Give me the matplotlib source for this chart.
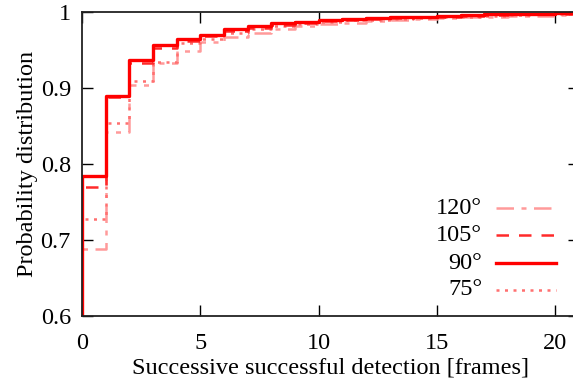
import numpy as np
import matplotlib
matplotlib.use("Agg")
import matplotlib.pyplot as plt

# successive detections (frames) and CDF per camera angle
frames = np.arange(0, 22)
labels = ["120°", "105°", "90°", "75°"]
cdf_120 = [0.688, 0.842, 0.904, 0.933, 0.949, 0.960, 0.967, 0.972, 0.977, 0.981, 0.984,
           0.986, 0.988, 0.990, 0.991, 0.992, 0.993, 0.994, 0.995, 0.995, 0.996, 0.996]
cdf_105 = [0.770, 0.888, 0.933, 0.953, 0.962, 0.968, 0.975, 0.979, 0.983, 0.986, 0.988,
           0.990, 0.991, 0.992, 0.993, 0.994, 0.995, 0.996, 0.997, 0.997, 0.998, 0.998]
cdf_90 = [0.784, 0.889, 0.937, 0.957, 0.964, 0.970, 0.977, 0.981, 0.985, 0.987, 0.989,
          0.991, 0.992, 0.993, 0.994, 0.995, 0.996, 0.997, 0.997, 0.998, 0.999, 0.999]
cdf_75 = [0.727, 0.854, 0.909, 0.934, 0.959, 0.965, 0.972, 0.977, 0.981, 0.984, 0.987,
          0.989, 0.990, 0.991, 0.992, 0.993, 0.994, 0.995, 0.996, 0.997, 0.997, 0.998]

plt.rcParams['font.family'] = ['Liberation Serif', 'DejaVu Serif']
plt.rcParams['font.size'] = 17.5

fig = plt.figure(figsize=(5.73, 3.85), dpi=100)
ax = fig.add_axes([82/573, 69/385, 497/573, 304/385])

styles = [
    dict(color='#ff9a9a', lw=1.8, dashes=(7, 3, 2, 3)),
    dict(color='#ff2a2a', lw=1.8, dashes=(5, 4)),
    dict(color='#ff0000', lw=2.4),
    dict(color='#ff7070', lw=1.8, dashes=(1.2, 2.2)),
]
series = [cdf_120, cdf_105, cdf_90, cdf_75]

# draw from back to front, 90 on top
for i in [0, 3, 1, 2]:
    x = np.concatenate([[0], frames])
    y = np.concatenate([[0.0], series[i]])
    ax.plot(x, y, drawstyle='steps-post', **styles[i])

ax.set_xlim(0, 21)
ax.set_ylim(0.6, 1.0)
ax.set_xticks([0, 5, 10, 15, 20])
ax.set_yticks([0.6, 0.7, 0.8, 0.9, 1.0])
ax.set_yticklabels(["0.6", "0.7", "0.8", "0.9", "1"])
ax.tick_params(direction='in', length=8, width=1, top=True, right=True)
ax.tick_params(axis='x', pad=12)
ax.tick_params(axis='y', pad=8)
for sp in ax.spines.values():
    sp.set_linewidth(1.3)
    sp.set_color('#222222')

ax.set_xlabel('Successive successful detection [frames]', labelpad=3)
ax.set_ylabel('Probability distribution', labelpad=2)

# legend in gnuplot style: right-justified text then line sample
leg_y = [0.355, 0.266, 0.174, 0.086]
for i in range(4):
    ax.text(0.805, leg_y[i], labels[i], transform=ax.transAxes, ha='right', va='center')
    ax.plot([0.833, 0.954], [leg_y[i], leg_y[i]], transform=ax.transAxes, **styles[i])

fig.savefig('out.png', dpi=100)
